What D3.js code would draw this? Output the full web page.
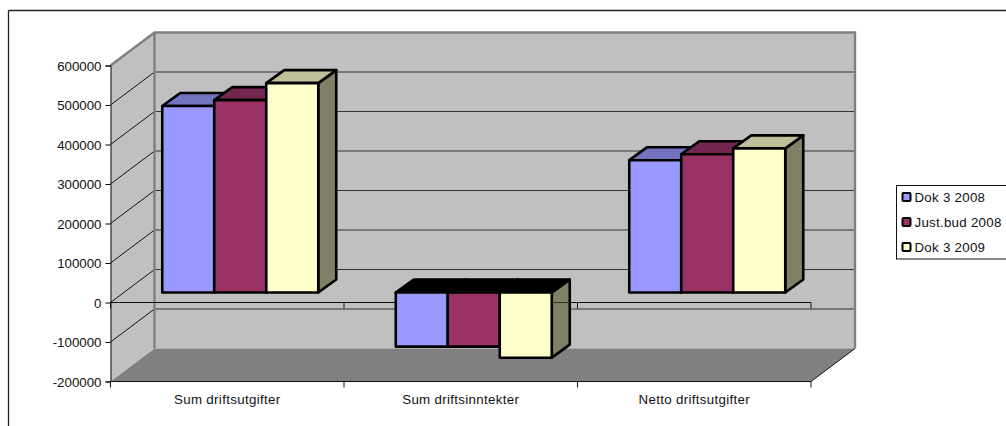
<!DOCTYPE html>
<html><head><meta charset="utf-8">
<script src="https://cdnjs.cloudflare.com/ajax/libs/d3/7.8.5/d3.min.js"></script>
<style>html,body{margin:0;padding:0;background:#fff}svg{display:block}text{font-family:"Liberation Sans",Arial,sans-serif;fill:#111}</style>
</head><body><svg id="c" width="1006" height="426"></svg>
<script>
const categories=["Sum driftsutgifter","Sum driftsinntekter","Netto driftsutgifter"];
const seriesNames=["Dok 3 2008","Just.bud 2008","Dok 3 2009"];
const dok2008=[472000,-137000,335000];
const just2008=[487000,-137000,350000];
const dok2009=[530000,-165000,365000];
const allSeries=[dok2008,just2008,dok2009];
const yTicks=[-200000,-100000,0,100000,200000,300000,400000,500000,600000];
const colors=["#9999ff","#993366","#ffffcc"];
const topColors=["#7373bf","#732650","#bfbf99"];
const sideColors=["#4d4d80","#4d1a33","#808066"];

const svg=d3.select("#c");
const y=d3.scaleLinear().domain([-200000,600000]).range([381.5,65.5]);
const x=d3.scaleBand().domain(categories).range([110.5,811]);
const inner=d3.scaleBand().domain([0,1,2]).range([0,156]);
const wall={dx:44,dy:-33}, bar={dx:13,dy:-10}, deep={dx:18,dy:-13};
const L=110.5,R=811,T=y(600000),B=y(-200000);
const poly=(pts,fill,attrs={})=>{const p=svg.append("polygon").attr("points",pts.map(d=>d.join(",")).join(" ")).attr("fill",fill);for(const k in attrs)p.attr(k,attrs[k]);return p;};
const line=(x1,y1,x2,y2,s="#000",w=1)=>svg.append("line").attr("x1",x1).attr("y1",y1).attr("x2",x2).attr("y2",y2).attr("stroke",s).attr("stroke-width",w);

// frame
line(8.5,10.5,1006,10.5,"#222",1.3);
line(8.5,10.5,8.5,426,"#222",1.3);

// walls and floor
poly([[L+wall.dx,T+wall.dy],[R+wall.dx,T+wall.dy],[R+wall.dx,B+wall.dy],[L+wall.dx,B+wall.dy]],"#c0c0c0");
poly([[L,T],[L+wall.dx,T+wall.dy],[L+wall.dx,B+wall.dy],[L,B]],"#c0c0c0");
poly([[L,B],[R,B],[R+wall.dx,B+wall.dy],[L+wall.dx,B+wall.dy]],"#808080");

// gridlines
yTicks.filter(v=>v>-200000&&v<600000).forEach(v=>{
  line(L+wall.dx,y(v)+wall.dy,R+wall.dx,y(v)+wall.dy,"#333",1.2);
  line(L,y(v),L+wall.dx,y(v)+wall.dy,"#111",1);
});
// wall borders
svg.append("path").attr("d",`M${L},${T}L${L+wall.dx},${T+wall.dy}L${R+wall.dx},${T+wall.dy}L${R+wall.dx},${B+wall.dy}`).attr("fill","none").attr("stroke","#808080").attr("stroke-width",2.4);
line(L+wall.dx,T+wall.dy,L+wall.dx,B+wall.dy,"#808080",2.4);
line(R,B,R+wall.dx,B+wall.dy,"#111",1);

// axes
const yAxis=d3.axisLeft(y).tickValues(yTicks).tickSize(5).tickPadding(4).tickFormat(d=>String(d));
const gy=svg.append("g").attr("transform",`translate(${L},0)`).call(yAxis);
gy.selectAll("text").style("font-size","13.3px").attr("dy","0.36em");
gy.select(".domain").attr("stroke","#111");
const xEdges=[0,1,2,3].map(i=>L+i*x.bandwidth());
[y(0),B].forEach(yy=>{
  line(L,yy,R,yy,"#111",1.2);
  xEdges.forEach(e=>line(e,yy,e,yy+6,"#111",1));
});
svg.selectAll(".cat").data(categories).join("text").attr("class","cat")
  .attr("x",d=>x(d)+x.bandwidth()/2).attr("y",403.5).attr("text-anchor","middle").style("font-size","13.3px").style("letter-spacing","0.33px").text(d=>d);

// bars
const x0=c=>x(c)+bar.dx+(x.bandwidth()-156)/2;
categories.forEach((c,ci)=>{
  allSeries.forEach((s,si)=>{
    const v=s[ci];
    const xa=x0(c)+inner(si), xb=xa+inner.bandwidth();
    const y0=y(0)+bar.dy, yv=y(v)+bar.dy;
    const top=Math.min(y0,yv), bot=Math.max(y0,yv);
    const st={stroke:"#000","stroke-width":2.6,"stroke-linejoin":"round"};
    poly([[xb,top],[xb+deep.dx,top+deep.dy],[xb+deep.dx,bot+deep.dy],[xb,bot]],sideColors[si],st);
    poly([[xa,top],[xb,top],[xb+deep.dx,top+deep.dy],[xa+deep.dx,top+deep.dy]],v<0?"#000":topColors[si],st);
    poly([[xa,top],[xb,top],[xb,bot],[xa,bot]],colors[si],st);
    if(v<0&&si===2) line(xb+1,y(0),xb+deep.dx-1,y(0),"#333",1);
  });
});

// legend
svg.append("rect").attr("x",896.5).attr("y",185.5).attr("width",112).attr("height",73.5).attr("fill","#fff").attr("stroke","#111").attr("stroke-width",1);
const ly=d3.scalePoint().domain(seriesNames).range([197,247]);
seriesNames.forEach((n,i)=>{
  svg.append("rect").attr("x",902.5).attr("y",ly(n)-4).attr("width",8).attr("height",8).attr("rx",1).attr("fill",colors[i]).attr("stroke","#000").attr("stroke-width",2);
  svg.append("text").attr("x",914.5).attr("y",ly(n)+5).style("font-size","13.3px").style("letter-spacing","0.27px").text(n);
});
</script></body></html>
